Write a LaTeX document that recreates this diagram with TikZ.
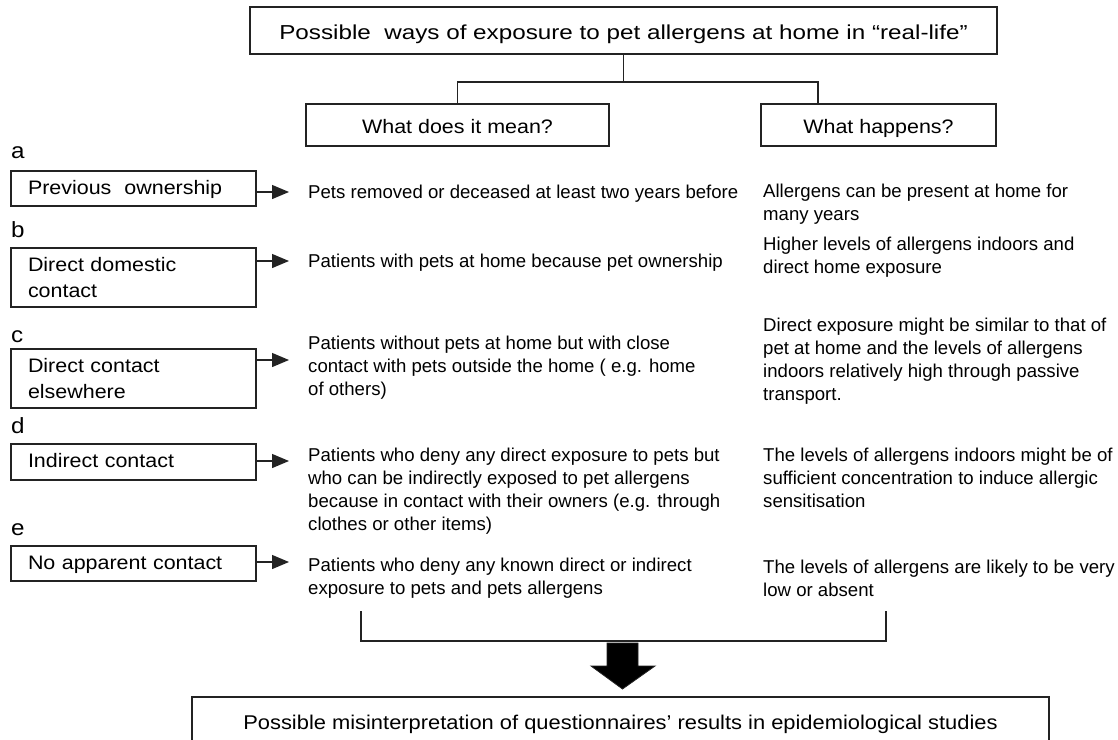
\documentclass[tikz,border=0pt]{standalone}
\usepackage{fontspec}
\setmainfont{Liberation Sans}
\newfontfamily\titlefont[FakeStretch=1.2]{Liberation Sans}
\newfontfamily\boxfont[FakeStretch=1.1]{Liberation Sans}
\usetikzlibrary{arrows.meta,calc}
\definecolor{ln}{RGB}{35,35,35}
\begin{document}
\begin{tikzpicture}[x=1pt,y=-1pt,
  frame/.style={draw=ln, line width=1.3pt, inner sep=0pt, font=\boxfont\fontsize{19.5}{26.5}\selectfont},
  oneline/.style={text height=13pt, text depth=2pt},
  head/.style={text height=16pt, text depth=0pt},
  col/.style={anchor=base west, align=left, inner sep=0pt, font=\fontsize{18.6}{23}\selectfont},
  lbl/.style={anchor=base west, inner sep=0pt, font=\boxfont\fontsize{22}{26}\selectfont},
  conn/.style={draw=ln, line width=1.3pt},
  arr/.style={conn, -{Triangle[length=17pt,width=14pt]}}]
\useasboundingbox (0,0) rectangle (1118,739);
\fill[white] (0,0) rectangle (1118,739);

% header
\node[frame, minimum width=747pt, minimum height=47pt, text height=17pt, text depth=0pt,
      font=\titlefont\fontsize{20.2}{24}\selectfont] (top) at (623.5,30.5)
      {Possible\ \ ways of exposure to pet allergens at home in “real-life”};
\node[frame, head, minimum width=303pt, minimum height=42pt] (wdim) at (457.5,125) {What does it mean?};
\node[frame, head, minimum width=235pt, minimum height=42pt] (wh) at (878.5,125) {What happens?};
\coordinate (j) at (623.5,82);
\coordinate (whc) at (818,104);
\draw[conn] (top.south) -- (j);
\draw[conn] (wdim.north) |- (j) -| (whc);

% labels
\node[lbl] (lab-a) at (11,158) {a};
\node[lbl] (lab-b) at (11,237) {b};
\node[lbl] (lab-c) at (11,342) {c};
\node[lbl] (lab-d) at (11,433) {d};
\node[lbl] (lab-e) at (11,535) {e};

% category boxes
\node[frame, oneline, minimum width=245pt, minimum height=35pt, text width=211pt, inner xsep=17pt, align=left] (ba) at (133.5,188.5) {Previous\ \ ownership};
\node[frame, minimum width=245pt, minimum height=59pt, text width=211pt, inner xsep=17pt, align=left] (bb) at (133.5,277.5) {Direct domestic\\contact};
\node[frame, minimum width=245pt, minimum height=59pt, text width=211pt, inner xsep=17pt, align=left] (bc) at (133.5,378.5) {Direct contact\\elsewhere};
\node[frame, oneline, minimum width=245pt, minimum height=36pt, text width=211pt, inner xsep=17pt, align=left] (bd) at (133.5,462) {Indirect contact};
\node[frame, oneline, minimum width=245pt, minimum height=35pt, text width=211pt, inner xsep=17pt, align=left] (be) at (133.5,563.5) {No apparent contact};

% arrows
\coordinate (ta) at (289,192);
\coordinate (tb) at (289,261);
\coordinate (tc) at (289,360);
\coordinate (td) at (289,461);
\coordinate (te) at (289,562);
\draw[arr] (ba.east |- ta) -- (ta);
\draw[arr] (bb.east |- tb) -- (tb);
\draw[arr] (bc.east |- tc) -- (tc);
\draw[arr] (bd.east |- td) -- (td);
\draw[arr] (be.east |- te) -- (te);

% left column (anchor = baseline of the last line)
\node[col] (la) at (308,198) {Pets removed or deceased at least two years before};
\node[col] (lb) at (308,267) {Patients with pets at home because pet ownership};
\node[col] (lc) at (308,395) {Patients without pets at home but with close\\contact with pets outside the home ( e.g. home\\of others)};
\node[col] (ld) at (308,530) {Patients who deny any direct exposure to pets but\\who can be indirectly exposed to pet allergens\\because in contact with their owners (e.g. through\\clothes or other items)};
\node[col] (le) at (308,594) {Patients who deny any known direct or indirect\\exposure to pets and pets allergens};

% right column
\node[col] (ra) at (763,220) {Allergens can be present at home for\\many years};
\node[col] (rb) at (763,273) {Higher levels of allergens indoors and\\direct home exposure};
\node[col] (rc) at (763,400) {Direct exposure might be similar to that of\\pet at home and the levels of allergens\\indoors relatively high through passive\\transport.};
\node[col] (rd) at (763,507) {The levels of allergens indoors might be of\\sufficient concentration to induce allergic\\sensitisation};
\node[col] (re) at (763,596) {The levels of allergens are likely to be very\\low or absent};

% bracket
\coordinate (bl) at (361,611);
\coordinate (br) at (886,611);
\coordinate (bm) at (622.5,641);
\draw[conn] (bl) |- (bm) -| (br);

% fat arrow
\filldraw[fill=black, draw=ln, line width=0.8pt] (607,643) -- (638,643) -- (638,666) -- (655,666) -- (622.5,689) -- (591,666) -- (607,666) -- cycle;

% conclusion
\node[frame, oneline, minimum width=857pt, minimum height=53pt, font=\boxfont\fontsize{19.9}{24}\selectfont] (concl) at (620.5,723.5)
  {Possible misinterpretation of questionnaires’ results in epidemiological studies};
\end{tikzpicture}
\end{document}
